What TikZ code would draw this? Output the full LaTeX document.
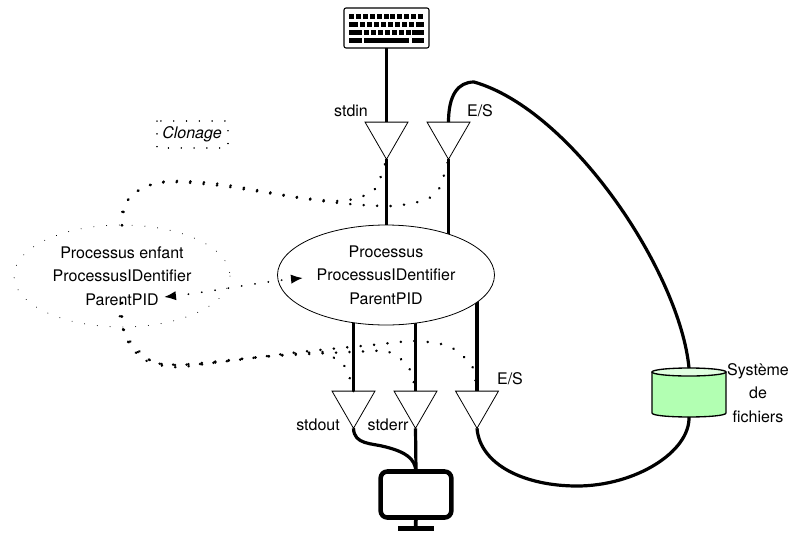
\documentclass[tikz,border=0pt]{standalone}
\usepackage{fontspec}
\setmainfont{TeX Gyre Heros}
\usetikzlibrary{shapes.geometric,arrows.meta}
\definecolor{diskbody}{RGB}{178,255,178}
\definecolor{disktop}{RGB}{225,255,225}
\tikzset{
	label/.style={font=\fontsize{12}{17.6}\selectfont,align=center,inner sep=0pt},
	tap/.style={shape=regular polygon,regular polygon sides=3,shape border rotate=180,minimum size=37.2pt,inner sep=0pt,outer sep=0pt,draw,line width=0.6pt},
	wire/.style={line width=2.4pt},
	clone/.style={line width=2pt,line cap=round,dash pattern=on 0.1pt off 10pt},
	thindots/.style={line width=0.7pt,line cap=round,dash pattern=on 0.1pt off 9.5pt},
	key/.style={fill=black}
}
\begin{document}
\begin{tikzpicture}[x=0.75pt,y=-0.75pt]
	\useasboundingbox (0,0) rectangle (799,532);
	% clavier
	\node[draw,rounded corners=1.5pt,line width=0.8pt,minimum width=63.75pt,minimum height=30pt,outer sep=0pt] (keyboard) at (386.5,28) {};
	\foreach \x in {349,355.9,...,420}
		\fill[key] (\x,14) rectangle ++(5,4.5);
	\foreach \x in {360,367,...,410}
		\fill[key] (\x,22) rectangle ++(5,5);
	\fill[key] (349,22) rectangle (358,27);
	\fill[key] (416,22) rectangle (424,27);
	\foreach \x in {364,371,...,406}
		\fill[key] (\x,30) rectangle ++(5,5);
	\fill[key] (349,30) rectangle (362,35);
	\fill[key] (412,30) rectangle (424,35);
	\fill[key] (349,38) rectangle (362,43);
	\fill[key] (364,38) rectangle (409,43);
	\fill[key] (412,38) rectangle (424,43);
	% triangles
	\node[tap] (tapin) at (386.5,134.5) {};
	\node[tap] (tapes) at (448.5,134.5) {};
	\node[tap] (tapout) at (353.5,403.5) {};
	\node[tap] (taperr) at (415.5,403.5) {};
	\node[tap] (tapfs) at (477,403.5) {};
	\coordinate (parentmid) at (386,275);
	\draw[wire] (tapin.corner 1) -- (tapin.corner 1 |- parentmid);
	\draw[wire] (tapes.corner 1) -- (tapes.corner 1 |- parentmid);
	\draw[wire] (tapout.side 2) -- (tapout.side 2 |- parentmid);
	\draw[wire] (taperr.side 2) -- (taperr.side 2 |- parentmid);
	\draw[wire] (tapfs.side 2) -- (tapfs.side 2 |- parentmid);
	% processus
	\node[draw,fill=white,ellipse,line width=0.6pt,minimum width=162.75pt,minimum height=75pt,inner sep=0pt,outer sep=0pt,label] (parent) at (parentmid) {Processus\\ProcessusIDentifier\\ParentPID};
	\node[ellipse,minimum width=163pt,minimum height=76pt,inner sep=0pt,outer sep=0pt,label] (child) at (122,276) {Processus enfant\\ProcessusIDentifier\\ParentPID};
	\draw[thindots] (child.center) ellipse [x radius=108,y radius=51];
	% disque
	\node[minimum width=55.5pt,minimum height=36.75pt,inner sep=0pt,outer sep=0pt] (disk) at (689,392.5) {};
	\draw[line width=1pt,fill=diskbody,line join=round] (652,372) -- (652,413) .. controls (652,418.3) and (726,418.3) .. (726,413) -- (726,372) -- cycle;
	\draw[line width=1pt,fill=disktop] (689,372) ellipse [x radius=37,y radius=4];
	\node[label] (disklabel) at (758,393) {Système\\de\\fichiers};
	% ecran
	\node[draw,rounded corners=5pt,line width=3.4pt,minimum width=53pt,minimum height=34.5pt,outer sep=0pt] (screen) at (416,494.5) {};
	\coordinate (foot) at (415.5,528.5);
	\draw[line width=2.8pt] (screen.south) -- (foot);
	\draw[line width=3.4pt] (398,528.5) -- (434,528.5);
	% textes
	\node[label] (stdin) at (351,111) {stdin};
	\node[label] (esin) at (480,111) {E/S};
	\node[label] (stdout) at (318,425) {stdout};
	\node[label] (stderr) at (388,425) {stderr};
	\node[label] (esout) at (510,379) {E/S};
	\node[label,font=\fontsize{12}{14}\selectfont\itshape] (clonage) at (192,134) {Clonage};
	\draw[thindots,line width=1pt] (157,121) rectangle (228,148);
	% liaisons
	\draw[wire] (keyboard.south) -- (tapin.side 2);
	\draw[wire] (taperr.corner 1) -- (screen.north);
	\draw[wire] (tapout.corner 1) .. controls (354,445) and (372,443) .. (386,447) .. controls (405,452) and (415,458) .. (screen.north);
	\draw[wire] (tapes.side 2) .. controls (448.5,95) and (458,82) .. (474,82) .. controls (572,110) and (680,273) .. (disk.north);
	\draw[wire] (tapfs.corner 1) .. controls (480,465) and (525,486) .. (577,486) .. controls (635,486) and (690,452) .. (disk.south);
	% clonage
	\draw[clone] plot[smooth] coordinates {(child.north) (125,205) (133,195) (145,187) (170,181) (220,184) (297,197) (340,201) (366,195) (377,186) (tapin.corner 1)};
	\draw[clone] plot[smooth] coordinates {(child.north) (122,213) (130,197) (147,186) (172,182) (222,186) (299,198) (349,204) (391,206) (418,202) (431,197) (440,187) (tapes.corner 1)};
	\coordinate (forkchild) at (122,303);
	\draw[clone] plot[smooth] coordinates {(forkchild) (122,318) (124,332) (132,347) (150,360) (175,365) (250,358) (322,352) (335,359) (346,368) (tapout.side 2)};
	\draw[clone] plot[smooth] coordinates {(forkchild) (122,322) (127,337) (140,352) (155,363) (180,367) (260,357) (372,351) (386,351) (398,357) (408,366) (413,379) (taperr.side 2)};
	\draw[clone] plot[smooth] coordinates {(forkchild) (120,318) (130,345) (150,362) (200,364) (300,352) (372,345) (413,341) (441,344) (454,349) (465,358) (473,368) (tapfs.side 2)};
	\draw[line width=1.4pt,line cap=round,dash pattern=on 0.1pt off 10pt,{Latex[length=9pt,width=7pt]}-{Latex[length=9pt,width=7pt]}] (164,297) .. controls (210,292) and (260,282) .. (303,278);
\end{tikzpicture}
\end{document}
